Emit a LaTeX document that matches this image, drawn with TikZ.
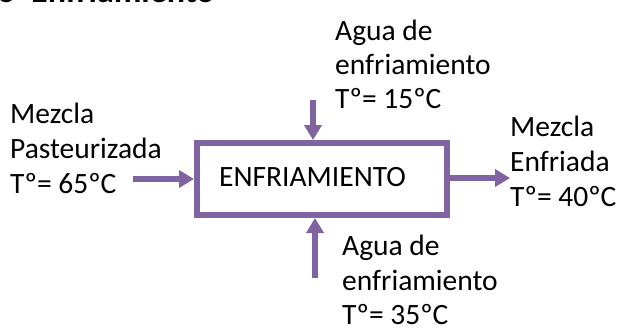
\documentclass[tikz,border=0pt]{standalone}
\usepackage{fontspec}
\setmainfont{Carlito}
\usetikzlibrary{arrows.meta}
\definecolor{procpurple}{HTML}{8064A2}
\tikzset{
  txt/.style={anchor=base west, inner sep=0pt, font=\fontsize{29.5}{35}\selectfont},
  flow/.style={draw=procpurple, line width=6pt, -{Triangle[width=17pt,length=15pt]}, color=procpurple},
  procbox/.style={draw=procpurple, line width=6pt, minimum width=250pt, minimum height=72pt, inner sep=0pt}
}
\begin{document}
\begin{tikzpicture}[x=1pt,y=-1pt]
\path[use as bounding box, clip] (0,0) rectangle (617,327);
\fill[white] (0,0) rectangle (617,327);
% title (clipped at top)
\node[anchor=base west, inner sep=0pt, font=\fontsize{34}{40}\selectfont\bfseries] (title) at (-3,2.5) {o\hspace{8pt} Enfriamiento};
% process box
\node[procbox] (box) at (322,179) {};
\node[txt] (lbl) at (219,186) {ENFRIAMIENTO};
% left input
\node[txt] (l1) at (10,123) {Mezcla};
\node[txt] (l2) at (10,158) {Pasteurizada};
\node[txt] (l3) at (10,193) {Tº= 65ºC};
\coordinate (inL) at (133,179);
\draw[flow] (inL) -- (box.west |- inL);
% top input
\node[txt] (t1) at (335,40) {Agua de};
\node[txt] (t2) at (335,74) {enfriamiento};
\node[txt] (t3) at (335,108) {Tº= 15ºC};
\coordinate (inT) at (313,100);
\draw[flow] (inT) -- (box.north -| inT);
% right output
\node[txt] (r1) at (510,136) {Mezcla};
\node[txt] (r2) at (510,171) {Enfriada};
\node[txt] (r3) at (510,206) {Tº= 40ºC};
\coordinate (outR) at (510,178);
\draw[flow] (box.east |- outR) -- (outR);
% bottom input
\node[txt] (b1) at (342,255) {Agua de};
\node[txt] (b2) at (342,290) {enfriamiento};
\node[txt] (b3) at (342,324) {Tº= 35ºC};
\coordinate (inB) at (315,278);
\draw[flow] (inB) -- (box.south -| inB);
\end{tikzpicture}
\end{document}
